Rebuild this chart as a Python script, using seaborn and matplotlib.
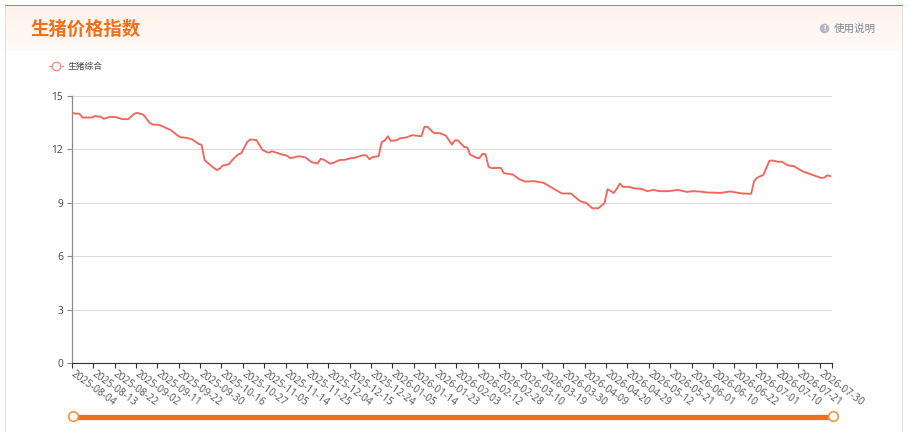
import numpy as np
import pandas as pd
import seaborn as sns
import matplotlib
matplotlib.use("Agg")
import matplotlib.pyplot as plt
from matplotlib.lines import Line2D
from matplotlib.patches import Circle, Rectangle
from matplotlib.transforms import ScaledTranslation

tick_labels = ["2025-08-04","2025-08-13","2025-08-22","2025-09-02","2025-09-11","2025-09-22",
    "2025-09-30","2025-10-16","2025-10-27","2025-11-05","2025-11-14","2025-11-25","2025-12-04",
    "2025-12-15","2025-12-24","2026-01-05","2026-01-14","2026-01-23","2026-02-03","2026-02-12",
    "2026-02-28","2026-03-10","2026-03-19","2026-03-30","2026-04-09","2026-04-20","2026-04-29",
    "2026-05-12","2026-05-21","2026-06-01","2026-06-10","2026-06-22","2026-07-01","2026-07-10",
    "2026-07-21","2026-07-30"]

# trading-day index of each read-off reading
day_index = [0,2,3,6,7,9,10,12,14,16,18,20,21,23,25,26,28,32,34,35,37,39,41,42,43,45,47,48,49,51,
    52,54,55,57,58,60,62,64,65,69,70,71,74,76,78,80,81,82,84,85,87,89,91,92,95,96,97,98,100,101,
    102,103,104,106,107,109,111,114,115,116,118,120,122,124,125,126,128,129,130,132,133,134,135,
    136,137,140,141,144,146,148,151,154,157,160,163,164,166,168,170,172,174,175,177,178,179,180,
    182,184,186,188,190,192,195,198,201,203,205,208,209,212,215,216,219,222,223,224,226,228,229,
    231,232,234,236,239,245,246,247,248]
index_values = [14.01,13.98,13.77,13.77,13.85,13.81,13.70,13.81,13.79,13.68,13.68,13.99,14.03,13.92,
    13.47,13.38,13.36,13.06,12.78,12.67,12.63,12.54,12.29,12.24,11.38,11.08,10.82,10.91,11.08,11.15,
    11.38,11.70,11.77,12.41,12.54,12.50,11.94,11.79,11.88,11.66,11.64,11.49,11.60,11.53,11.27,11.19,
    11.45,11.41,11.19,11.21,11.38,11.40,11.49,11.51,11.66,11.64,11.43,11.55,11.60,12.39,
    12.48,12.72,12.46,12.50,12.61,12.65,12.78,12.72,13.25,13.25,12.91,12.89,12.76,12.25,12.50,12.48,
    12.12,12.09,11.69,11.51,11.49,11.73,11.71,11.02,10.93,10.95,10.65,10.57,10.31,10.18,10.20,10.11,
    9.81,9.51,9.51,9.36,9.08,8.98,8.68,8.68,8.98,9.75,9.54,9.77,10.07,9.88,9.88,9.79,9.77,9.64,9.71,
    9.64,9.64,9.71,9.60,9.64,9.62,9.56,9.56,9.54,9.62,9.60,9.51,9.49,10.20,10.40,10.55,11.34,11.36,
    11.28,11.30,11.09,11.04,10.74,10.38,10.40,10.53,10.48]
y_ticks = [0, 3, 6, 9, 12, 15]
series_name = "生猪综合"
title_text = "生猪价格指数"
help_text = "使用说明"

W, H = 911, 432
sns.set_theme(style="white")
plt.rcParams["font.family"] = ["Open Sans", "Noto Sans CJK SC", "DejaVu Sans"]
CJK = ["Noto Sans CJK SC", "DejaVu Sans"]
LINE = "#f0665c"
ORANGE = "#ee6f1c"

fig = plt.figure(figsize=(W/100, H/100), dpi=100, facecolor="white")

# page furniture in pixel coordinates
bg = fig.add_axes([0, 0, 1, 1], zorder=0)
bg.set_xlim(0, W); bg.set_ylim(H, 0); bg.axis("off")
grad = np.linspace(0, 1, 50)[:, None, None] * (np.array([255, 251, 248]) - np.array([254, 242, 235])) + np.array([254, 242, 235])
bg.imshow(grad.astype(np.uint8), extent=[6, 902, 51, 6], aspect="auto", zorder=1)
bg.set_xlim(0, W); bg.set_ylim(H, 0)
bg.add_patch(Rectangle((5, 5), 897.5, 1.2, color=ORANGE, lw=0, zorder=3))
bg.add_patch(Rectangle((5, 6), 1.2, H, color="#e3e3e3", lw=0, zorder=2))
bg.add_patch(Rectangle((901.5, 6), 1.2, H, color="#e3e3e3", lw=0, zorder=2))
bg.text(30.5, 29.5, title_text, family=CJK, fontsize=13.2, fontweight="bold", color="#f0701a", va="center", ha="left", zorder=4)
bg.add_patch(Circle((824.5, 28.5), 4.8, color="#b3b8c4", lw=0, zorder=4))
bg.text(824.5, 28.3, "!", color="white", fontsize=6.5, fontweight="bold", ha="center", va="center", zorder=5)
bg.text(834, 28.5, help_text, family=CJK, fontsize=7.6, color="#7f8a9c", va="center", ha="left", zorder=4)
# range slider
bg.plot([74, 833], [416.5, 416.5], color=ORANGE, lw=3.8, solid_capstyle="butt", zorder=3)
for sx in (73.5, 833.5):
    bg.add_patch(Circle((sx, 416.5), 4.8, facecolor="white", edgecolor="#f5953f", lw=1.2, zorder=4))

# chart
L, R, T, B = 71.8, 832, 95.6, 363
ax = fig.add_axes([L/W, 1 - B/H, (R-L)/W, (B-T)/H], zorder=2)
ax.patch.set_alpha(0)
df = pd.DataFrame({"day": day_index, "value": index_values})
sns.lineplot(data=df, x="day", y="value", ax=ax, color=LINE, lw=1.35, errorbar=None, zorder=3)
ax.set_xlim(-0.5, 248.5)
ax.set_ylim(0, 15)
ax.set_xlabel(""); ax.set_ylabel("")
ax.set_yticks(y_ticks)
ax.set_xticks([-0.5 + 7*i for i in range(len(tick_labels))] + [248.5])
ax.tick_params(axis="x", length=3.6, width=0.8, color="#333333", pad=0.5, bottom=True)
ax.tick_params(axis="y", length=3.6, width=0.8, color="#888888", pad=2.5, labelsize=7.4, labelcolor="#444444", left=True)
ax.set_xticklabels(tick_labels + [""], rotation=-36, ha="left", va="top", rotation_mode="anchor",
                   fontsize=7.3, color="#555555")
shift = ScaledTranslation(3.0/100, 0, fig.dpi_scale_trans)
for lab in ax.get_xticklabels():
    lab.set_transform(lab.get_transform() + shift)
ax.grid(axis="y", color="#dcdcdc", lw=0.8)
ax.set_axisbelow(True)
for s in ("top", "right"):
    ax.spines[s].set_visible(False)
ax.spines["left"].set_color("#8c8c8c"); ax.spines["left"].set_linewidth(0.9)
ax.spines["bottom"].set_color("#333333"); ax.spines["bottom"].set_linewidth(0.8)

handle = Line2D([], [], color="#f58a80", lw=0.9, marker="o", ms=6.2, mfc="white", mec="#f58a80", mew=0.9)
leg = ax.legend(handles=[handle], labels=[series_name], loc="center left",
                bbox_to_anchor=(49/W, 1 - 66.5/H), bbox_transform=fig.transFigure, frameon=False,
                borderpad=0, borderaxespad=0, handlelength=1.55, handletextpad=0.55,
                prop={"family": CJK, "size": 6.3})
leg.get_texts()[0].set_color("#444444")

fig.savefig("out.png", dpi=100, facecolor="white")
